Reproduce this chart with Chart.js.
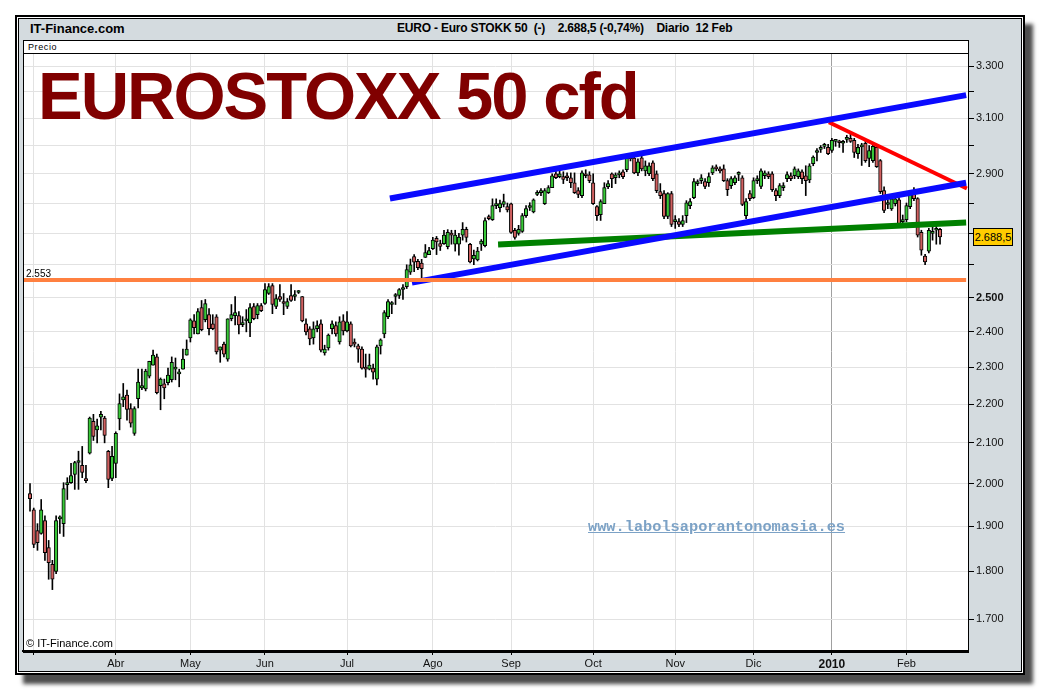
<!DOCTYPE html>
<html lang="es">
<head>
<meta charset="utf-8">
<title>EUROSTOXX 50 cfd</title>
<script src="https://cdn.jsdelivr.net/npm/chart.js@4.4.1/dist/chart.umd.min.js"></script>
<style>
    html, body {
        margin: 0;
        padding: 0;
        width: 1040px;
        height: 690px;
        overflow: hidden;
        background: #fff;
        font-family: "Liberation Sans", Arial, sans-serif;
    }
    .frame {
        position: absolute;
        left: 15px; top: 15px;
        width: 1006px; height: 656px;
        border: 2px solid #000;
        background: #d4dbdf;
        box-shadow: inset 0 0 0 1px #fff, inset 0 0 0 2px #000, 8px 9px 4px #4d4d4d;
    }
    .brand {
        position: absolute; left: 30px; top: 21px;
        font-size: 13px; font-weight: bold; color: #000;
    }
    .head {
        position: absolute; left: 397px; top: 21px;
        font-size: 12px; font-weight: bold; color: #000;
        white-space: pre; letter-spacing: -0.2px;
    }
    .precio {
        position: absolute; left: 23px; top: 40px;
        width: 946px; height: 14px; box-sizing: border-box;
        background: #fff; border: 1px solid #000;
        font-size: 9px; line-height: 12px; padding-left: 4px;
        letter-spacing: 0.6px;
    }
    #chart { position: absolute; left: 0; top: 0; z-index: 1; }
    .overlay { position: absolute; z-index: 2; white-space: pre; }
    .title {
        left: 38px; top: 62px;
        font-size: 67px; line-height: 67px; font-weight: bold;
        color: #800000; letter-spacing: -2px;
    }
    .web {
        left: 588px; top: 520px;
        font-family: "Liberation Mono", "DejaVu Sans Mono", monospace;
        font-size: 15.3px; line-height: 15px; font-weight: bold;
        color: #7ca2c6; text-decoration: underline;
    }
    .copy { left: 26px; top: 637px; font-size: 11px; color: #000; }
    .level { left: 26px; top: 268px; font-size: 10px; color: #000; }
    .last {
        left: 973px; top: 228px; width: 38px; height: 16px;
        background: #ffcc00; border: 1px solid #000;
        font-size: 11px; line-height: 16px; text-align: center; color: #000;
    }
</style>
</head>
<body>
<div class="frame"></div>
<div class="brand">IT-Finance.com</div>
<div class="head">EURO - Euro STOKK 50  (-)    2.688,5 (-0,74%)    Diario  12 Feb</div>
<div class="precio">Precio</div>
<canvas id="chart" width="1040" height="690"></canvas>
<div class="overlay title">EUROSTOXX 50 cfd</div>
<div class="overlay web">www.labolsaporantonomasia.es</div>
<div class="overlay copy">© IT-Finance.com</div>
<div class="overlay level">2.553</div>
<div class="overlay last">2.688,5</div>

<script>
// Daily candles, 27 Feb 2009 .. 12 Feb 2010 (index = trading day)
const opens = [
    1976, 1938, 1890, 1884, 1913, 1852, 1815, 1800, 1917, 1906, 1997, 2002, 2022, 2051, 2044,
    2012, 2074, 2155, 2133, 2166, 2163, 2079, 2012, 2049, 2161, 2211, 2224, 2188, 2124, 2214,
    2243, 2240, 2275, 2305, 2328, 2249, 2254, 2257, 2265, 2294, 2281, 2294, 2333, 2382, 2431,
    2393, 2470, 2434, 2449, 2422, 2443, 2347, 2364, 2322, 2437, 2446, 2446, 2420, 2431, 2425,
    2473, 2449, 2476, 2482, 2512, 2536, 2473, 2503, 2488, 2473, 2506, 2503, 2515, 2503, 2422,
    2408, 2382, 2408, 2422, 2339, 2353, 2408, 2417, 2370, 2431, 2402, 2422, 2367, 2359, 2350,
    2299, 2294, 2297, 2267, 2359, 2393, 2443, 2479, 2503, 2506, 2524, 2533, 2577, 2626, 2611,
    2605, 2623, 2632, 2651, 2684, 2667, 2667, 2657, 2697, 2665, 2665, 2694, 2713, 2665, 2618,
    2615, 2665, 2660, 2755, 2745, 2791, 2784, 2795, 2788, 2797, 2710, 2700, 2706, 2758, 2785,
    2770, 2829, 2835, 2798, 2835, 2852, 2900, 2890, 2890, 2888, 2886, 2869, 2842, 2825, 2900,
    2896, 2869, 2788, 2761, 2798, 2855, 2900, 2886, 2896, 2907, 2914, 2969, 2955, 2903, 2956,
    2910, 2900, 2938, 2900, 2839, 2832, 2755, 2832, 2738, 2738, 2729, 2758, 2791, 2818, 2866,
    2876, 2873, 2869, 2903, 2919, 2917, 2917, 2876, 2859, 2869, 2898, 2886, 2758, 2832, 2818,
    2876, 2856, 2893, 2900, 2900, 2842, 2825, 2852, 2883, 2893, 2893, 2890, 2907, 2893, 2879,
    2935, 2975, 2986, 2997, 2993, 2982, 3015, 3013, 3008, 3022, 3026, 3019, 2971, 2995, 3008,
    2954, 2946, 2993, 2946, 2842, 2795, 2780, 2798, 2811, 2738, 2745, 2788, 2842, 2815, 2703,
    2627, 2643, 2700, 2710, 2713
];
const highs = [
    2000, 1942, 1906, 1962, 1924, 1868, 1824, 1924, 1924, 2002, 2014, 2049, 2054, 2079, 2091,
    2044, 2166, 2173, 2161, 2181, 2168, 2081, 2091, 2128, 2227, 2255, 2237, 2201, 2193, 2294,
    2294, 2294, 2316, 2347, 2336, 2270, 2267, 2297, 2328, 2325, 2294, 2350, 2376, 2437, 2449,
    2467, 2491, 2494, 2467, 2449, 2449, 2356, 2370, 2437, 2479, 2503, 2458, 2443, 2464, 2482,
    2482, 2482, 2482, 2542, 2542, 2542, 2509, 2539, 2512, 2497, 2539, 2521, 2521, 2503, 2437,
    2414, 2428, 2431, 2434, 2361, 2393, 2431, 2428, 2443, 2449, 2458, 2428, 2379, 2364, 2356,
    2336, 2336, 2308, 2361, 2379, 2461, 2494, 2488, 2512, 2527, 2539, 2600, 2618, 2632, 2617,
    2617, 2664, 2655, 2687, 2690, 2678, 2710, 2712, 2710, 2710, 2700, 2735, 2720, 2668, 2646,
    2655, 2680, 2751, 2760, 2814, 2814, 2810, 2830, 2800, 2800, 2716, 2726, 2765, 2791, 2801,
    2814, 2842, 2849, 2849, 2859, 2900, 2910, 2910, 2907, 2903, 2903, 2903, 2852, 2910, 2914,
    2907, 2900, 2791, 2811, 2869, 2876, 2903, 2903, 2910, 2914, 2963, 2972, 2963, 2952, 2963,
    2945, 2938, 2945, 2910, 2866, 2842, 2835, 2839, 2758, 2748, 2758, 2808, 2815, 2883, 2879,
    2897, 2883, 2903, 2928, 2931, 2924, 2931, 2883, 2890, 2893, 2907, 2893, 2815, 2842, 2886,
    2893, 2917, 2910, 2907, 2907, 2849, 2866, 2869, 2907, 2903, 2924, 2917, 2914, 2928, 2935,
    2963, 2989, 3000, 3008, 3004, 3026, 3022, 3019, 3019, 3037, 3044, 3026, 3004, 3008, 3015,
    3000, 3004, 3000, 2950, 2855, 2811, 2825, 2825, 2818, 2760, 2800, 2842, 2852, 2818, 2710,
    2633, 2716, 2726, 2726, 2716
];
const lows = [
    1935, 1852, 1846, 1882, 1824, 1783, 1761, 1795, 1884, 1877, 1962, 2000, 1986, 1986, 2014,
    2002, 2072, 2106, 2100, 2133, 2100, 1990, 2007, 2014, 2133, 2193, 2158, 2140, 2119, 2190,
    2238, 2235, 2270, 2305, 2227, 2185, 2214, 2251, 2259, 2265, 2246, 2294, 2333, 2370, 2393,
    2393, 2402, 2428, 2390, 2405, 2336, 2313, 2328, 2316, 2431, 2419, 2393, 2414, 2399, 2385,
    2434, 2437, 2458, 2479, 2509, 2452, 2467, 2488, 2449, 2467, 2488, 2491, 2512, 2428, 2390,
    2362, 2364, 2399, 2342, 2333, 2347, 2393, 2387, 2364, 2390, 2399, 2356, 2356, 2313, 2294,
    2272, 2292, 2267, 2251, 2336, 2382, 2437, 2452, 2479, 2497, 2494, 2527, 2570, 2579, 2585,
    2558, 2623, 2632, 2648, 2632, 2645, 2664, 2650, 2665, 2643, 2630, 2678, 2672, 2606, 2600,
    2612, 2645, 2656, 2744, 2742, 2781, 2770, 2787, 2770, 2700, 2681, 2694, 2703, 2752, 2775,
    2767, 2825, 2825, 2795, 2832, 2852, 2883, 2886, 2866, 2876, 2852, 2832, 2818, 2818, 2886,
    2869, 2795, 2742, 2742, 2798, 2849, 2852, 2866, 2886, 2883, 2907, 2945, 2900, 2893, 2910,
    2893, 2893, 2876, 2835, 2815, 2748, 2748, 2722, 2716, 2722, 2722, 2735, 2781, 2815, 2859,
    2866, 2849, 2856, 2897, 2910, 2903, 2873, 2825, 2849, 2862, 2876, 2791, 2748, 2808, 2815,
    2866, 2849, 2883, 2883, 2839, 2808, 2818, 2842, 2873, 2876, 2883, 2883, 2866, 2825, 2869,
    2928, 2945, 2975, 2989, 2967, 2975, 2997, 2993, 2975, 3011, 3011, 2957, 2954, 2929, 2940,
    2925, 2940, 2922, 2832, 2768, 2781, 2775, 2790, 2726, 2726, 2738, 2781, 2808, 2688, 2630,
    2600, 2637, 2678, 2665, 2665
];
const closes = [
    1964, 1859, 1863, 1938, 1841, 1819, 1783, 1913, 1921, 1988, 2002, 2019, 2051, 2054, 2027,
    2007, 2163, 2116, 2143, 2173, 2119, 2010, 2066, 2124, 2201, 2219, 2186, 2150, 2188, 2259,
    2249, 2289, 2316, 2333, 2230, 2267, 2243, 2278, 2313, 2297, 2283, 2322, 2350, 2434, 2411,
    2458, 2405, 2482, 2408, 2408, 2342, 2356, 2336, 2437, 2449, 2455, 2419, 2424, 2437, 2470,
    2437, 2476, 2461, 2524, 2533, 2479, 2497, 2494, 2482, 2488, 2491, 2506, 2518, 2431, 2399,
    2379, 2408, 2417, 2347, 2350, 2390, 2422, 2393, 2428, 2402, 2428, 2359, 2364, 2350, 2297,
    2294, 2305, 2286, 2356, 2376, 2455, 2488, 2482, 2506, 2524, 2527, 2585, 2600, 2608, 2591,
    2588, 2638, 2645, 2678, 2672, 2658, 2694, 2703, 2694, 2694, 2688, 2713, 2687, 2609, 2630,
    2643, 2675, 2742, 2748, 2791, 2798, 2798, 2805, 2777, 2703, 2687, 2713, 2758, 2781, 2788,
    2811, 2835, 2838, 2842, 2852, 2893, 2886, 2900, 2880, 2886, 2869, 2835, 2829, 2903, 2893,
    2876, 2798, 2758, 2805, 2852, 2866, 2883, 2896, 2903, 2890, 2955, 2952, 2903, 2942, 2917,
    2928, 2928, 2883, 2842, 2825, 2755, 2832, 2729, 2742, 2729, 2742, 2801, 2805, 2873, 2869,
    2886, 2856, 2890, 2921, 2917, 2910, 2876, 2845, 2883, 2886, 2900, 2795, 2805, 2815, 2876,
    2883, 2910, 2903, 2890, 2845, 2825, 2859, 2859, 2897, 2883, 2917, 2910, 2883, 2876, 2928,
    2959, 2978, 2989, 3001, 2971, 3019, 3017, 3010, 3011, 3027, 3015, 2975, 2993, 2997, 2946,
    2982, 2997, 2925, 2838, 2775, 2801, 2814, 2814, 2729, 2742, 2791, 2835, 2815, 2694, 2646,
    2609, 2710, 2705, 2716, 2688.5
];

// Month gridlines (first trading day of each month)
const monthIdx = [1, 23, 43, 63, 85, 108, 129, 151, 173, 194, 215, 235];
const monthLabels = ['', 'Abr', 'May', 'Jun', 'Jul', 'Ago', 'Sep', 'Oct', 'Nov', 'Dic', '2010', 'Feb'];

// Price axis
const priceTicks = [1700, 1800, 1900, 2000, 2100, 2200, 2300, 2400, 2500, 2600, 2700, 2800, 2900, 3000, 3100, 3200, 3300];
const priceLabels = ['1.700', '1.800', '1.900', '2.000', '2.100', '2.200', '2.300', '2.400', '2.500', '', '', '', '2.900', '', '3.100', '', '3.300'];

// Drawn lines: [start index, start price, end index, end price]
const supportLine = [-2, 2553, 251, 2553];
const channelTop = [96.5, 2815, 251, 3187];
const channelBottom = [102.4, 2545, 251, 2869];
const greenLine = [125.5, 2664, 251, 2735];
const redLine = [214.2, 3085, 251.2, 2849];

const FONT = '"Liberation Sans", Arial, sans-serif';

function segment(l) {
    return [{ x: l[0], y: l[1] }, { x: l[2], y: l[3] }];
}

function lineSet(l, color, width) {
    return {
        type: 'line',
        data: segment(l),
        borderColor: color,
        borderWidth: width,
        pointRadius: 0,
        fill: false,
        order: 0
    };
}

const wicks = lows.map((lo, i) => ({ x: i, y: [lo, highs[i]] }));
const bodies = opens.map((o, i) => ({ x: i, y: [o, closes[i]] }));
const bodyColors = opens.map((o, i) => closes[i] >= o ? '#38c838' : '#d06060');

// white plot background and black frame around it
const plotFrame = {
    id: 'plotFrame',
    beforeDraw(chart) {
        const { ctx, chartArea: a } = chart;
        ctx.save();
        ctx.fillStyle = '#fff';
        ctx.fillRect(a.left, a.top, a.right - a.left, a.bottom - a.top);
        ctx.restore();
    },
    afterDraw(chart) {
        const { ctx, chartArea: a } = chart;
        ctx.save();
        ctx.strokeStyle = '#000';
        ctx.lineWidth = 1;
        ctx.strokeRect(a.left + 0.5, a.top + 0.5, a.right - a.left, a.bottom - a.top);
        ctx.lineWidth = 2;
        ctx.beginPath();
        ctx.moveTo(a.left, a.bottom + 1);
        ctx.lineTo(a.right + 1, a.bottom + 1);
        ctx.stroke();
        ctx.restore();
    }
};

new Chart(document.getElementById('chart'), {
    type: 'bar',
    data: {
        datasets: [
            lineSet(supportLine, '#ff8040', 4),
            lineSet(channelTop, '#0a0aff', 6),
            lineSet(channelBottom, '#0a0aff', 6),
            lineSet(greenLine, '#008000', 6),
            lineSet(redLine, '#ff0000', 4),
            {
                data: bodies,
                backgroundColor: bodyColors,
                borderColor: '#000',
                borderWidth: 1,
                borderSkipped: false,
                barThickness: 3.5,
                minBarLength: 2,
                grouped: false,
                order: 1
            },
            {
                data: wicks,
                backgroundColor: '#000',
                borderWidth: 0,
                barThickness: 1,
                grouped: false,
                order: 2
            }
        ]
    },
    options: {
        responsive: false,
        animation: false,
        events: [],
        layout: { padding: { left: 23, top: 53, right: 20, bottom: 19 } },
        plugins: {
            legend: { display: false },
            tooltip: { enabled: false }
        },
        scales: {
            x: {
                type: 'linear',
                min: -1.88,
                max: 251.5,
                offset: false,
                afterBuildTicks: s => { s.ticks = monthIdx.map(v => ({ value: v })); },
                afterFit: s => { s.height = 20; },
                grid: {
                    offset: false,
                    color: c => c.tick && c.tick.value === 215 ? '#a0a0a0' : '#e2e2e2',
                    tickColor: '#000',
                    tickLength: 4
                },
                border: { color: '#000', width: 2 },
                ticks: {
                    autoSkip: false,
                    maxRotation: 0,
                    padding: 2,
                    color: '#111',
                    font: c => ({ family: FONT, size: c.tick && c.tick.value === 215 ? 12 : 11, weight: c.tick && c.tick.value === 215 ? 'bold' : 'normal' }),
                    callback: (v, i) => monthLabels[i]
                }
            },
            y: {
                type: 'logarithmic',
                position: 'right',
                min: 1636,
                max: 3352,
                afterBuildTicks: s => { s.ticks = priceTicks.map(v => ({ value: v })); },
                afterFit: s => { s.width = 52; },
                grid: {
                    color: '#e2e2e2',
                    tickColor: '#000',
                    tickLength: 6
                },
                border: { color: '#000', width: 1 },
                ticks: {
                    padding: 2,
                    color: '#111',
                    font: c => ({ family: FONT, size: 11, weight: c.tick && c.tick.value === 2500 ? 'bold' : 'normal' }),
                    callback: (v, i) => priceLabels[i]
                }
            }
        }
    },
    plugins: [plotFrame]
});
</script>
</body>
</html>
